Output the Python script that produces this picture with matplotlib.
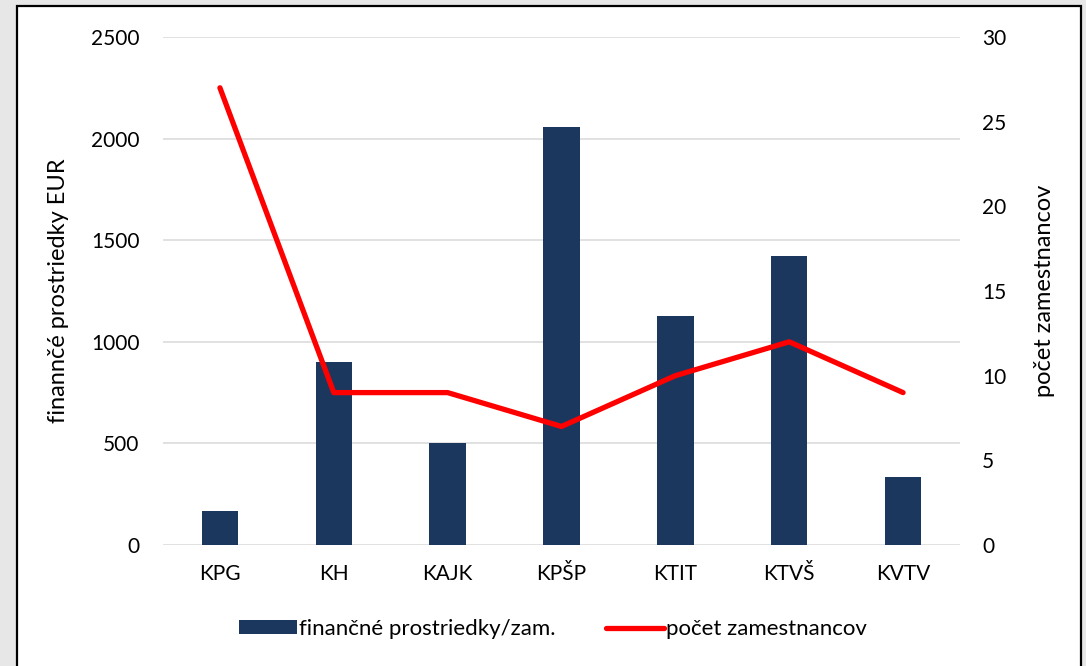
import matplotlib

matplotlib.use("Agg")
import matplotlib.pyplot as plt
from matplotlib.patches import Rectangle
from matplotlib.lines import Line2D
from matplotlib.patches import Patch

CATEGORIES = ["KPG", "KH", "KAJK", "KPŠP", "KTIT", "KTVŠ", "KVTV"]
FUNDS = [167, 900, 500, 2055, 1125, 1420, 335]  # finančné prostriedky/zam.
STAFF = [27, 9, 9, 7, 10, 12, 9]  # počet zamestnancov

C_BAR = "#1c375e"
C_LINE = "#ff0000"
C_GRID = "#d9d9d9"

plt.rcParams.update({"font.family": ["Lato", "DejaVu Sans"], "font.size": 15})

fig = plt.figure(figsize=(10.86, 6.66), dpi=100, facecolor="#e7e7e7")
# white chart panel with black frame
W, H = 1086, 666
fig.patches.append(
    Rectangle((17 / W, -0.01), (1081 - 17) / W, (666 - 6) / H + 0.01,
              transform=fig.transFigure, facecolor="white",
              edgecolor="black", linewidth=1.6, zorder=-10)
)

ax = fig.add_axes([163 / W, 1 - 545 / H, (960 - 163) / W, (545 - 37) / H])
ax.set_facecolor("none")
xs = range(len(CATEGORIES))
ax.bar(xs, FUNDS, width=0.32, color=C_BAR, zorder=3)
ax.set_xlim(-0.5, len(CATEGORIES) - 0.5)
ax.set_ylim(0, 2500)
ax.set_yticks(range(0, 2501, 500))
ax.set_xticks(list(xs))
ax.set_xticklabels(CATEGORIES)
ax.grid(True, axis="y", color=C_GRID, lw=1.1, zorder=0)
ax.tick_params(axis="x", length=0, pad=14)
ax.tick_params(axis="y", length=0, pad=17)
for s in ax.spines.values():
    s.set_visible(False)
ax.set_ylabel("finannčé prostriedky EUR", fontsize=17)
ax.yaxis.set_label_coords(-(163 - 69) / (960 - 163), 0.5)

ax2 = ax.twinx()
ax2.plot(list(xs), STAFF, color=C_LINE, lw=3.8, solid_joinstyle="round",
         solid_capstyle="round", zorder=4)
ax2.set_ylim(0, 30)
ax2.set_yticks(range(0, 31, 5))
ax2.tick_params(length=0, pad=16)
for s in ax2.spines.values():
    s.set_visible(False)
ax2.set_ylabel("počet zamestnancov", fontsize=17)
ax2.yaxis.set_label_coords((1034 - 163) / (960 - 163), 0.5)

handles = [
    Patch(facecolor=C_BAR, label="finančné prostriedky/zam."),
    Line2D([0], [0], color=C_LINE, lw=3.8, solid_capstyle="round",
           label="počet zamestnancov"),
]
fig.legend(handles=handles, loc="center", bbox_to_anchor=(553 / W, 1 - 629 / H),
           ncol=2, frameon=False, fontsize=16, handlelength=2.6,
           handleheight=0.6, handletextpad=0.1, columnspacing=2.3)

fig.savefig("out.png", dpi=100, facecolor=fig.get_facecolor())
